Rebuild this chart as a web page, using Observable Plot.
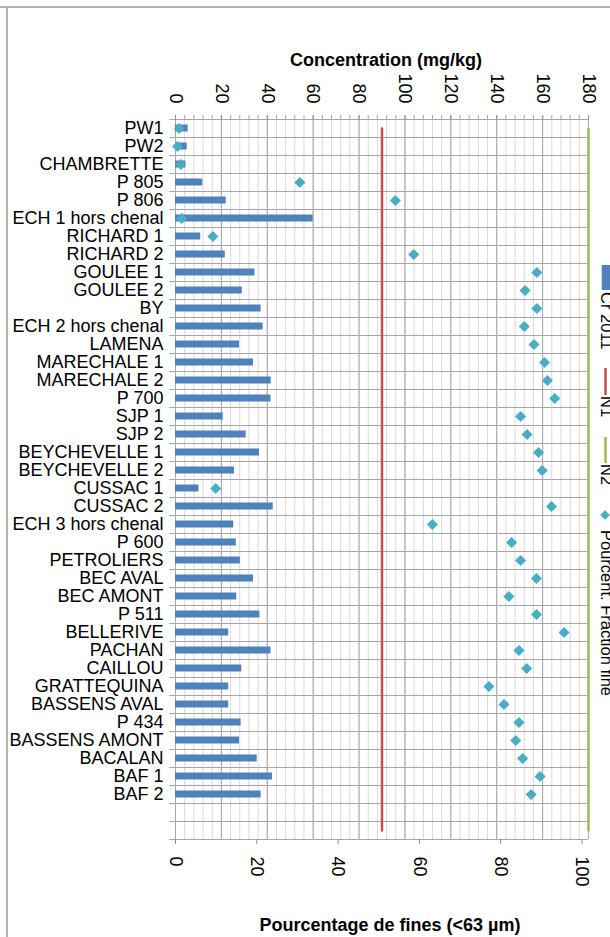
<!DOCTYPE html>
<html>
<head>
<meta charset="utf-8">
<script src="https://cdn.jsdelivr.net/npm/d3@7"></script>
<script src="https://cdn.jsdelivr.net/npm/@observablehq/plot@0.6"></script>
<style>
html, body { margin: 0; padding: 0; background: #fff; overflow: hidden; }
#wrap { position: relative; width: 610px; height: 937px; overflow: hidden; background: #fff; }
#wrap svg { position: absolute; left: 0; top: 0; }
</style>
</head>
<body>
<div id="wrap"></div>
<script>
// ---- data ----
const sites = ["PW1","PW2","CHAMBRETTE","P 805","P 806","ECH 1 hors chenal","RICHARD 1","RICHARD 2","GOULEE 1","GOULEE 2","BY","ECH 2 hors chenal","LAMENA","MARECHALE 1","MARECHALE 2","P 700","SJP 1","SJP 2","BEYCHEVELLE 1","BEYCHEVELLE 2","CUSSAC 1","CUSSAC 2","ECH 3 hors chenal","P 600","PETROLIERS","BEC AVAL","BEC AMONT","P 511","BELLERIVE","PACHAN","CAILLOU","GRATTEQUINA","BASSENS AVAL","P 434","BASSENS AMONT","BACALAN","BAF 1","BAF 2"];
const cr2011 = [5.5,5.1,4.5,11.9,22.1,60.0,11.0,21.7,34.6,29.1,37.3,38.2,27.9,34.0,41.7,41.6,20.8,30.8,36.6,25.7,10.2,42.6,25.4,26.5,28.3,34.0,26.7,36.8,23.2,41.6,28.9,23.2,23.2,28.6,27.9,35.6,42.3,37.3];
const pctFines = [0.9,0.5,1.3,30.6,54.1,1.5,9.2,58.6,88.9,86.0,88.9,85.8,88.2,90.8,91.5,93.3,84.9,86.5,89.3,90.2,9.9,92.5,63.2,82.7,84.9,88.8,82.0,88.8,95.6,84.5,86.4,77.1,80.8,84.5,83.7,85.4,89.7,87.5];
const emptyRows = ["~blank1", "~blank2"];
const N1 = 90;
const N2 = 180;
const concTicks = [0,20,40,60,80,100,120,140,160,180];
const concMinorTicks = d3.range(0, 181, 4);
const pctTicks = [0,20,40,60,80,100];
const concMax = 180;
const pctMax = 101.6;
const legendLabels = ["Cr 2011", "N1", "N2", "Pourcent. Fraction fine"];
const titleTop = "Concentration (mg/kg)";
const titleBottom = "Pourcentage de fines (<63 µm)";

// ---- styles ----
const C_BAR = "#4f81bd", C_DIAM = "#4bacc6", C_N1 = "#c0504d", C_N2 = "#9bbb59";
const FONT = "'Liberation Sans', Arial, sans-serif";

const k = concMax / pctMax; // secondary (percentage) axis mapped onto the concentration scale
const rows = sites.map((site, i) => ({site, cr: cr2011[i], pct: pctFines[i]}));
const yDomain = [...sites, ...emptyRows];
const lastRow = yDomain[yDomain.length - 1];

const chart = Plot.plot({
  width: 610,
  height: 937,
  marginTop: 119,
  marginBottom: 98,
  marginLeft: 175,
  marginRight: 22,
  style: {fontFamily: FONT, fontSize: "18px", color: "#000", background: "transparent"},
  x: {domain: [0, concMax]},
  y: {domain: yDomain, padding: 0},
  marks: [
    Plot.ruleX(concMinorTicks, {stroke: "#d9d9d9", strokeWidth: 1}),
    Plot.ruleX(concTicks, {stroke: "#a6a6a6", strokeWidth: 1}),
    Plot.ruleY(yDomain, {y: d => d, dy: -9, x1: -2.5, x2: concMax, stroke: "#a6a6a6", strokeWidth: 1}),
    Plot.ruleY([lastRow], {y: d => d, dy: 9, x1: -2.5, x2: concMax, stroke: "#a6a6a6", strokeWidth: 1}),
    Plot.barX(rows, {x: "cr", y: "site", fill: C_BAR, insetTop: 5.5, insetBottom: 5.5}),
    Plot.lineX(yDomain, {x: () => N1, y: d => d, stroke: C_N1, strokeWidth: 2.5}),
    Plot.lineX(yDomain, {x: () => N2, y: d => d, stroke: C_N2, strokeWidth: 2.5}),
    Plot.dot(rows, {x: d => d.pct * k, y: "site", symbol: "diamond2", r: 5, fill: C_DIAM, stroke: "none"}),
    Plot.axisY({tickSize: 0, tickPadding: 12, label: null, tickFormat: d => emptyRows.includes(d) ? "" : d}),
    Plot.axisX({ticks: concMinorTicks, anchor: "top", tickSize: 5, stroke: "#a6a6a6", tickFormat: () => "", label: null}),
    Plot.axisX({ticks: concTicks, anchor: "top", tickSize: 5, tickRotate: 90, tickPadding: 11, stroke: "#8c8c8c", label: null}),
    Plot.axisX({ticks: pctTicks.map(p => p * k), anchor: "bottom", tickSize: 5, tickRotate: 90, tickPadding: 12, stroke: "#8c8c8c", label: null, tickFormat: d => Math.round(d / k)}),
    Plot.text([titleTop], {frameAnchor: "top", dy: -59, dx: 4, fontWeight: "bold", fontSize: 18, lineAnchor: "middle"}),
    Plot.text([titleBottom], {frameAnchor: "bottom", dy: 86, dx: 8, fontWeight: "bold", fontSize: 18, lineAnchor: "middle"})
  ]
});
document.getElementById("wrap").appendChild(chart);

// ---- legend (rotated, cut off at right edge) and page frame ----
const ov = d3.select("#wrap").append("svg")
  .attr("width", 610).attr("height", 937)
  .style("font-family", FONT);
ov.append("line").attr("x1", 0).attr("x2", 610).attr("y1", 7).attr("y2", 7).attr("stroke", "#999").attr("stroke-width", 1.5);
ov.append("line").attr("x1", 7).attr("x2", 7).attr("y1", 7).attr("y2", 937).attr("stroke", "#999").attr("stroke-width", 1.5);

const lg = ov.append("g");
lg.append("rect").attr("x", 601.7).attr("y", 265).attr("width", 25).attr("height", 25).attr("fill", C_BAR);
lg.append("line").attr("x1", 605.5).attr("x2", 605.5).attr("y1", 368).attr("y2", 395).attr("stroke", C_N1).attr("stroke-width", 2.5);
lg.append("line").attr("x1", 605.5).attr("x2", 605.5).attr("y1", 437).attr("y2", 463).attr("stroke", C_N2).attr("stroke-width", 2.5);
lg.append("path").attr("transform", "translate(605,515)").attr("d", d3.symbol(d3.symbolDiamond2, 60)()).attr("fill", C_DIAM);
const legendTextY = [292, 396, 464, 530];
legendLabels.forEach((t, i) => {
  lg.append("text").attr("transform", `translate(600.5,${legendTextY[i]}) rotate(90)`)
    .attr("font-size", 16.5).attr("fill", "#000").text(t);
});
</script>
</body>
</html>
